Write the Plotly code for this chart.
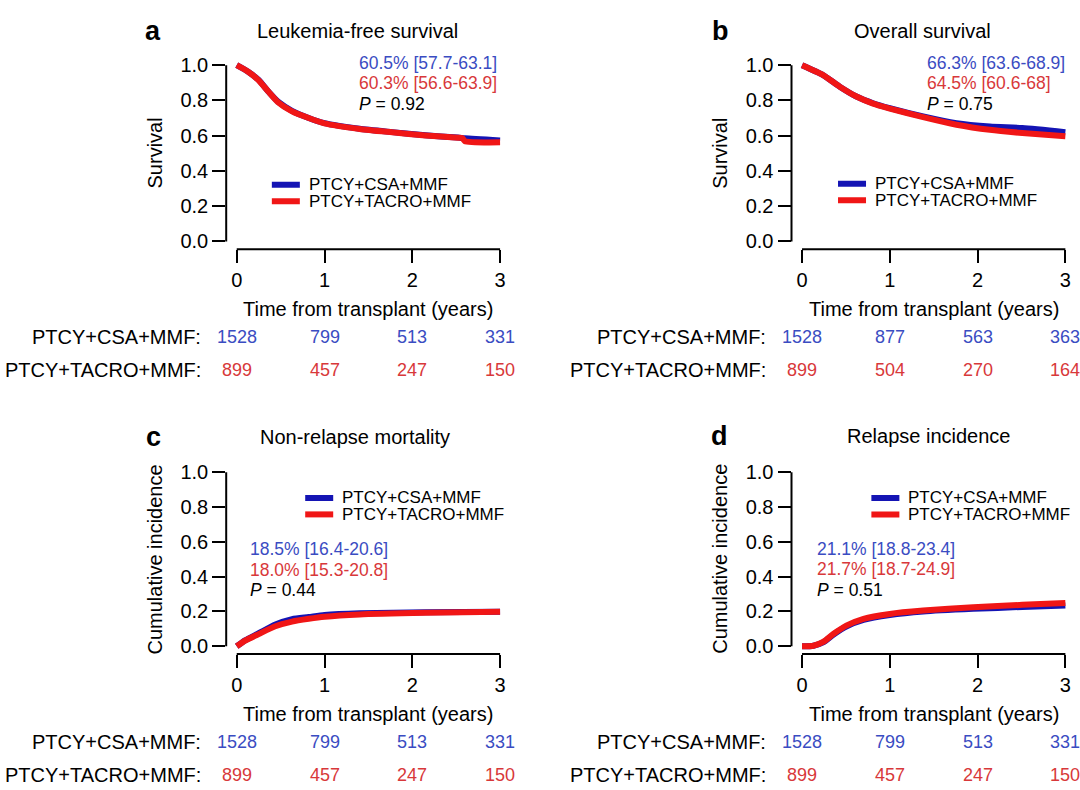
import plotly.graph_objects as go

FONT = "Liberation Sans, Arial, Helvetica, sans-serif"
W, H = 1080, 790

# ---------------- data ----------------
GROUPS = ["PTCY+CSA+MMF", "PTCY+TACRO+MMF"]
LINE_COLORS = ["#1414b4", "#f01616"]
TEXT_COLORS = ["#3a4cc2", "#d8383a"]

X_TICKS = [0, 1, 2, 3]
Y_TICKS = [0, 0.2, 0.4, 0.6, 0.8, 1.0]
Y_TICK_LABELS = ["0.0", "0.2", "0.4", "0.6", "0.8", "1.0"]
X_TITLE = "Time from transplant (years)"

PANEL_LETTERS = ["a", "b", "c", "d"]
PANEL_TITLES = ["Leukemia-free survival", "Overall survival",
                "Non-relapse mortality", "Relapse incidence"]
Y_TITLES = ["Survival", "Survival", "Cumulative incidence", "Cumulative incidence"]

# a: leukemia-free survival
LFS_T_CSA = [0, 0.13, 0.25, 0.36, 0.47, 0.63, 0.82, 1.0, 1.4, 1.77, 2.15, 2.52, 2.6, 3.0]
LFS_CSA = [1.0, 0.963, 0.916, 0.85, 0.793, 0.741, 0.70, 0.671, 0.639, 0.62, 0.602, 0.589, 0.585, 0.573]
LFS_T_TAC = [0, 0.13, 0.25, 0.36, 0.47, 0.63, 0.82, 1.0, 1.4, 1.77, 2.15, 2.52, 2.57, 2.6, 3.0]
LFS_TAC = [1.0, 0.963, 0.914, 0.85, 0.79, 0.738, 0.70, 0.67, 0.638, 0.619, 0.601, 0.588, 0.586, 0.568, 0.562]

# b: overall survival
OS_T = [0, 0.24, 0.43, 0.62, 0.81, 1.0, 1.38, 1.76, 2.14, 2.51, 3.0]
OS_CSA = [1.0, 0.944, 0.878, 0.822, 0.784, 0.756, 0.709, 0.671, 0.652, 0.643, 0.62]
OS_TAC = [1.0, 0.944, 0.878, 0.822, 0.782, 0.754, 0.705, 0.662, 0.633, 0.615, 0.596]

# c: non-relapse mortality
NRM_T = [0, 0.095, 0.25, 0.44, 0.63, 0.82, 1.0, 1.4, 2.15, 3.0]
NRM_CSA = [0, 0.034, 0.075, 0.125, 0.156, 0.168, 0.18, 0.19, 0.195, 0.198]
NRM_TAC = [0, 0.032, 0.07, 0.115, 0.142, 0.158, 0.17, 0.183, 0.192, 0.198]

# d: relapse incidence
RI_T = [0, 0.13, 0.24, 0.36, 0.51, 0.70, 1.0, 1.38, 1.95, 2.51, 3.0]
RI_CSA = [0, 0.003, 0.022, 0.068, 0.115, 0.152, 0.18, 0.2, 0.215, 0.226, 0.234]
RI_TAC = [0, 0.003, 0.025, 0.072, 0.12, 0.158, 0.186, 0.205, 0.224, 0.238, 0.249]

CURVES = [
    [(LFS_T_CSA, LFS_CSA), (LFS_T_TAC, LFS_TAC)],
    [(OS_T, OS_CSA), (OS_T, OS_TAC)],
    [(NRM_T, NRM_CSA), (NRM_T, NRM_TAC)],
    [(RI_T, RI_CSA), (RI_T, RI_TAC)],
]

STATS_CSA = ["60.5% [57.7-63.1]", "66.3% [63.6-68.9]", "18.5% [16.4-20.6]", "21.1% [18.8-23.4]"]
STATS_TAC = ["60.3% [56.6-63.9]", "64.5% [60.6-68]", "18.0% [15.3-20.8]", "21.7% [18.7-24.9]"]
P_VALUES = ["0.92", "0.75", "0.44", "0.51"]

AT_RISK_CSA = [[1528, 799, 513, 331], [1528, 877, 563, 363],
               [1528, 799, 513, 331], [1528, 799, 513, 331]]
AT_RISK_TAC = [[899, 457, 247, 150], [899, 504, 270, 164],
               [899, 457, 247, 150], [899, 457, 247, 150]]

# ---------------- layout geometry (pixels) ----------------
PLOT_W = 284.4
GEOM = [  # left, top, bottom of each plotting region
    (226.2, 54.6, 247.5),
    (791.5, 54.6, 247.5),
    (226.2, 465.5, 655.9),
    (791.5, 465.5, 655.9),
]
TITLE_POS = [(357, 27), (922, 27), (355, 437), (928, 436)]
LETTER_POS = [(153, 27), (720, 27), (153, 437), (719, 436)]
STATS_POS = [(1.37, 1.013), (1.40, 1.013), (0.13, 0.557), (0.15, 0.56)]
LEGEND_POS = [(0.40, 0.321), (0.41, 0.327), (0.78, 0.853), (0.79, 0.853)]

X_RANGE = [-0.12, 3.12]
Y_RANGE = [-0.045, 1.04]

fig = go.Figure()
annotations = []
shapes = []

for i in range(4):
    sfx = "" if i == 0 else str(i + 1)
    xa, ya = "x" + sfx, "y" + sfx
    left, top, bottom = GEOM[i]
    fig.update_layout(**{
        "xaxis" + sfx: dict(
            domain=[left / W, (left + PLOT_W) / W], range=X_RANGE, anchor=ya,
            tickvals=X_TICKS, ticktext=[str(t) for t in X_TICKS],
            ticks="outside", ticklen=13, tickwidth=2, tickcolor="black",
            showline=False, showgrid=False, zeroline=False, fixedrange=True,
            tickfont=dict(family=FONT, size=20, color="black"),
        ),
        "yaxis" + sfx: dict(
            domain=[1 - bottom / H, 1 - top / H], range=Y_RANGE, anchor=xa,
            tickvals=Y_TICKS, ticktext=Y_TICK_LABELS,
            ticks="outside", ticklen=13, tickwidth=2, tickcolor="black",
            showline=False, showgrid=False, zeroline=False, fixedrange=True,
            tickfont=dict(family=FONT, size=20, color="black"),
        ),
    })
    # axis lines spanning only the tick range
    shapes.append(dict(type="line", xref=xa, yref=ya + " domain",
                       x0=X_TICKS[0], x1=X_TICKS[-1], y0=0, y1=0,
                       line=dict(color="black", width=2)))
    shapes.append(dict(type="line", xref=xa + " domain", yref=ya,
                       x0=0, x1=0, y0=Y_TICKS[0], y1=Y_TICKS[-1],
                       line=dict(color="black", width=2)))

    # curves
    for g in range(2):
        t, v = CURVES[i][g]
        fig.add_trace(go.Scatter(
            x=t, y=v, mode="lines", name=GROUPS[g], xaxis=xa, yaxis=ya,
            line=dict(color=LINE_COLORS[g], width=6, shape="spline", smoothing=0.6),
            showlegend=False,
        ))

    # legend (manual, tight spacing)
    lx, ly = LEGEND_POS[i]
    for g in range(2):
        shapes.append(dict(type="line", xref=xa, yref=ya, xsizemode="pixel",
                           ysizemode="pixel", xanchor=lx, yanchor=ly,
                           x0=0, x1=28, y0=-16.5 * g, y1=-16.5 * g,
                           line=dict(color=LINE_COLORS[g], width=6)))
        annotations.append(dict(xref=xa, yref=ya, x=lx, y=ly, xanchor="left",
                                yanchor="middle", xshift=35, yshift=-16.5 * g,
                                text=GROUPS[g], showarrow=False,
                                font=dict(family=FONT, size=17, color="black")))

    # stats text
    sx, sy = STATS_POS[i]
    stats = [(STATS_CSA[i], TEXT_COLORS[0]), (STATS_TAC[i], TEXT_COLORS[1]),
             ("<i>P</i> = " + P_VALUES[i], "black")]
    for k, (txt, col) in enumerate(stats):
        annotations.append(dict(xref=xa, yref=ya, x=sx, y=sy, xanchor="left",
                                yanchor="middle", yshift=-20.5 * k, text=txt,
                                showarrow=False,
                                font=dict(family=FONT, size=17.5, color=col)))

    # x axis title
    annotations.append(dict(xref=xa + " domain", yref=ya + " domain", x=0.5, y=0,
                            yshift=-59.5, xanchor="center", yanchor="middle",
                            text=X_TITLE, showarrow=False,
                            font=dict(family=FONT, size=20, color="black")))
    # y axis title
    annotations.append(dict(xref=xa + " domain", yref=ya, x=0, y=0.5,
                            xshift=-71, xanchor="center", yanchor="middle",
                            textangle=-90, text=Y_TITLES[i], showarrow=False,
                            font=dict(family=FONT, size=20, color="black")))
    # panel title and letter
    tx, ty = TITLE_POS[i]
    annotations.append(dict(xref="paper", yref="paper", x=tx / W, y=1 - ty / H,
                            xanchor="center", yanchor="middle",
                            text=PANEL_TITLES[i], showarrow=False,
                            font=dict(family=FONT, size=20, color="black")))
    lx2, ly2 = LETTER_POS[i]
    annotations.append(dict(xref="paper", yref="paper", x=lx2 / W, y=1 - ly2 / H,
                            xanchor="center", yanchor="middle",
                            text="<b>" + PANEL_LETTERS[i] + "</b>", showarrow=False,
                            font=dict(family=FONT, size=27, color="black")))

    # numbers at risk table
    rows = [(AT_RISK_CSA[i], TEXT_COLORS[0]), (AT_RISK_TAC[i], TEXT_COLORS[1])]
    for r, (vals, col) in enumerate(rows):
        ysh = -87.5 - 33 * r
        annotations.append(dict(xref=xa, yref=ya + " domain", x=X_TICKS[0], y=0,
                                xshift=-34, yshift=ysh, xanchor="right",
                                yanchor="middle", text=GROUPS[r] + ":",
                                showarrow=False,
                                font=dict(family=FONT, size=20, color="black")))
        for t, n in zip(X_TICKS, vals):
            annotations.append(dict(xref=xa, yref=ya + " domain", x=t, y=0,
                                    yshift=ysh, xanchor="center", yanchor="middle",
                                    text=str(n), showarrow=False,
                                    font=dict(family=FONT, size=18, color=col)))

fig.update_layout(
    width=W, height=H, margin=dict(l=0, r=0, t=0, b=0),
    paper_bgcolor="white", plot_bgcolor="white",
    showlegend=False, annotations=annotations, shapes=shapes,
    hovermode=False,
)

fig.write_html(
    "out.html",
    config={"displayModeBar": False},
    post_script="document.body.style.margin='0';document.body.style.overflow='hidden';",
)
